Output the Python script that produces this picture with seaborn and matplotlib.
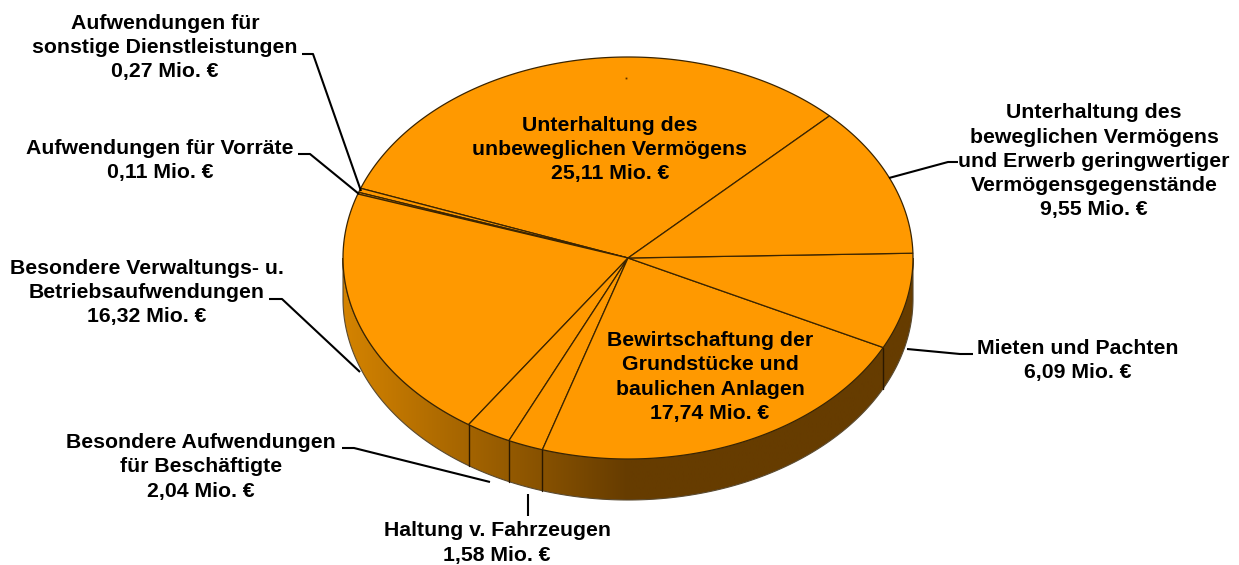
import numpy as np
import seaborn as sns
import matplotlib.pyplot as plt
from matplotlib.patches import Polygon

# segment names and values (Mio. EUR), counter-clockwise from the first slice
names = ['Unterhaltung des\nunbeweglichen Vermögens',
         'Aufwendungen für\nsonstige Dienstleistungen',
         'Aufwendungen für Vorräte',
         'Besondere Verwaltungs- u.\nBetriebsaufwendungen',
         'Besondere Aufwendungen\nfür Beschäftigte',
         'Haltung v. Fahrzeugen',
         'Bewirtschaftung der\nGrundstücke und\nbaulichen Anlagen',
         'Mieten und Pachten',
         'Unterhaltung des\nbeweglichen Vermögens\nund Erwerb geringwertiger\nVermögensgegenstände']
values = [25.11, 0.27, 0.11, 16.32, 2.04, 1.58, 17.74, 6.09, 9.55]

# label centres in pixels
label_x = [610, 165, 160, 147, 201, 497, 710, 1078, 1094]
label_y = [149.5, 47.5, 160.5, 292.5, 467, 543, 377, 360.5, 161.5]

leaders = [[(302, 54), (313, 54), (361, 191)],
           [(298, 154), (310, 154), (359, 194)],
           [(269, 299), (282, 299), (360, 372)],
           [(342, 448), (354, 448), (490, 482)],
           [(528, 494), (528, 516)],
           [(907, 349), (960, 354), (973, 354)],
           [(889, 178), (948, 162), (958, 162)]]

cx, cy, rx, ry = 628, 258, 285, 201
depth = 41
start = 45
orange = '#FF9900'

sns.set_theme(style='white')
plt.rcParams['font.family'] = ['Liberation Sans', 'DejaVu Sans']

fig = plt.figure(figsize=(12.39, 5.65), dpi=100)
ax = fig.add_axes([0, 0, 1, 1])


def rim(deg):
    a = np.radians(deg)
    return cx + rx * np.cos(a), cy - ry * np.sin(a)


# side wall, gradient left to right and clipped to the lower rim
shades = sns.blend_palette(['#D48300', '#663C00', '#663C00'], 256)
grad = np.array(shades)[None, :, :]
img = ax.imshow(grad, extent=[cx - rx, cx + rx, cy + ry + depth, cy - ry],
                aspect='auto', interpolation='bilinear', zorder=1)
t = np.linspace(180, 360, 300)
xs, ys = rim(t)
wall = np.vstack([np.c_[xs, ys], np.c_[xs[::-1], ys[::-1] + depth]])
wall_patch = Polygon(wall, closed=True, fc='none', ec='#5a4a30', lw=0.8, zorder=2)
ax.add_patch(wall_patch)
img.set_clip_path(wall_patch)

# top face, slices from the values
edges = start + np.cumsum([0] + values) / sum(values) * 360
for a0, a1 in zip(edges[:-1], edges[1:]):
    t = np.linspace(a0, a1, max(int(a1 - a0) * 2, 4))
    xs, ys = rim(t)
    pts = np.vstack([[cx, cy], np.c_[xs, ys]])
    ax.add_patch(Polygon(pts, closed=True, fc=orange, ec='#3a2400', lw=0.9, zorder=3))

# slice borders running down the wall
for e in edges:
    if 180 < e % 360 < 360:
        x0, y0 = rim(e)
        ax.plot([x0, x0], [y0, y0 + depth], color='#2a1800', lw=1.0, zorder=4)

ax.plot([625.5], [77.5], marker='s', ms=1.3, color='#5a3000', mew=0, zorder=4)

for pts in leaders:
    px, py = zip(*pts)
    ax.plot(px, py, color='black', lw=1.5, zorder=5, solid_capstyle='butt')

for name, val, x, y in zip(names, values, label_x, label_y):
    txt = name + '\n' + f'{val:.2f}'.replace('.', ',') + ' Mio. €'
    ax.text(x, y, txt, ha='center', va='center', multialignment='center',
            fontsize=15.3, fontweight='bold', color='black', linespacing=1.35, zorder=6)

ax.set_xlim(0, 1239)
ax.set_ylim(565, 0)
ax.axis('off')
fig.savefig('out.png', dpi=100, facecolor='white')
